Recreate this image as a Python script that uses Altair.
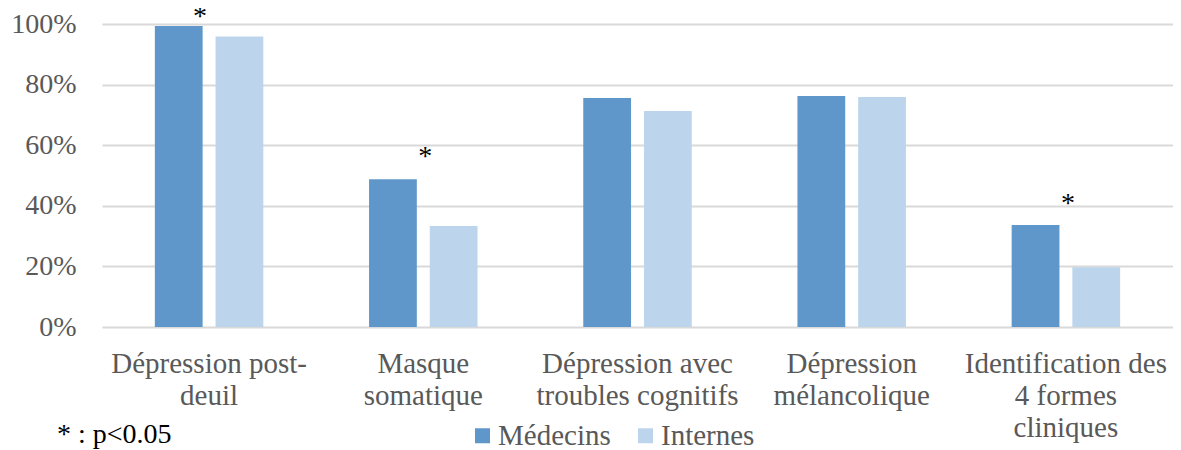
import altair as alt
import pandas as pd

categories = [
    "Dépression post-|deuil",
    "Masque|somatique",
    "Dépression avec|troubles cognitifs",
    "Dépression|mélancolique",
    "Identification des|4 formes|cliniques",
]
groups = ["Médecins", "Internes"]
medecins = [99.3, 48.8, 75.6, 76.2, 33.7]
internes = [95.9, 33.3, 71.3, 75.9, 19.7]
stars = ["*", "*", "", "", "*"]
star_y = [99.7, 53.5, 0, 0, 38.0]
footnote = "* : p<0.05"
colors = ["#5f97cb", "#bdd5ec"]

rows = []
for c, m, i in zip(categories, medecins, internes):
    rows.append({"cat": c, "group": groups[0], "value": m})
    rows.append({"cat": c, "group": groups[1], "value": i})
df = pd.DataFrame(rows)
sdf = pd.DataFrame({"cat": categories, "star": stars, "y": star_y})
sdf = sdf[sdf["star"] != ""]
fdf = pd.DataFrame({"t": [footnote]})

FONT = "Liberation Serif"

xscale = alt.Scale(domain=categories, paddingInner=0.4935, paddingOuter=0.2467)
yscale = alt.Scale(domain=[0, 100], nice=False)

bars = alt.Chart(df).mark_bar().encode(
    x=alt.X("cat:N", scale=xscale, sort=categories, title=None,
            axis=alt.Axis(labelExpr="split(datum.label, '|')", labelAngle=0,
                          ticks=False, domain=False, labelFont=FONT,
                          labelFontSize=29, labelLineHeight=32, labelColor="#595959",
                          labelPadding=22, labelLimit=400)),
    xOffset=alt.XOffset("group:N", sort=groups,
                        scale=alt.Scale(domain=groups, paddingInner=0.213, paddingOuter=0)),
    y=alt.Y("value:Q", scale=yscale, title=None,
            axis=alt.Axis(values=[0, 20, 40, 60, 80, 100], labelExpr="datum.value + '%'",
                          ticks=False, domain=False, labelFont=FONT, labelFontSize=28,
                          labelColor="#595959", labelPadding=26,
                          gridColor="#d9d9d9", gridWidth=2)),
    color=alt.Color("group:N", sort=groups,
                    scale=alt.Scale(domain=groups, range=colors),
                    legend=alt.Legend(title=None, orient="none", legendX=366, legendY=397,
                                      direction="horizontal", symbolType="square",
                                      symbolSize=225, symbolStrokeWidth=0,
                                      labelFont=FONT, labelFontSize=29,
                                      labelColor="#595959", columnPadding=20,
                                      labelOffset=1, padding=0)),
)

star_first = alt.Chart(sdf.iloc[:1]).mark_text(font=FONT, fontSize=28, color="#000000",
                                               baseline="alphabetic", dx=-9).encode(
    x=alt.X("cat:N", scale=xscale, sort=categories),
    y=alt.Y("y:Q", scale=yscale),
    text="star:N",
)
star_rest = alt.Chart(sdf.iloc[1:]).mark_text(font=FONT, fontSize=28, color="#000000",
                                              baseline="alphabetic", dx=2).encode(
    x=alt.X("cat:N", scale=xscale, sort=categories),
    y=alt.Y("y:Q", scale=yscale),
    text="star:N",
)

foot = alt.Chart(fdf).mark_text(font=FONT, fontSize=28, color="#000000",
                                align="left", baseline="alphabetic").encode(
    x=alt.value(-45), y=alt.value(419), text="t:N",
)

chart = alt.layer(bars, star_first, star_rest, foot).properties(
    width=1071, height=303,
    autosize=alt.AutoSizeParams(type="none"),
    padding={"left": 94, "top": 16, "right": 0, "bottom": 122},
).configure_view(stroke=None)

chart.save("out.html", embed_options={"renderer": "svg", "actions": False})
